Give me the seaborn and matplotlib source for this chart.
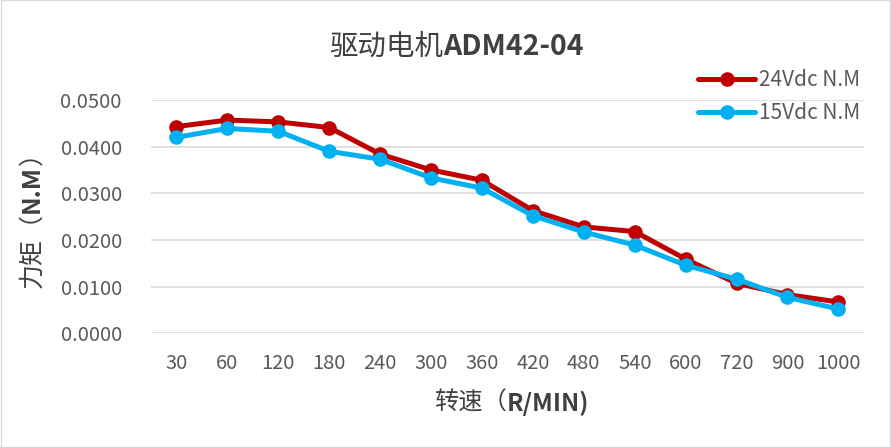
import matplotlib
matplotlib.use("Agg")
from matplotlib import pyplot as plt
import seaborn as sns
import pandas as pd

speeds = ["30", "60", "120", "180", "240", "300", "360", "420", "480", "540", "600", "720", "900", "1000"]
torque_24v = [0.0443, 0.0457, 0.0453, 0.0441, 0.0384, 0.0350, 0.0328, 0.0263, 0.0228, 0.0218, 0.0159, 0.0107, 0.0083, 0.0067]
torque_15v = [0.0420, 0.0439, 0.0433, 0.0390, 0.0373, 0.0333, 0.0311, 0.0252, 0.0217, 0.0189, 0.0146, 0.0116, 0.0077, 0.0052]
series_names = ["24Vdc N.M", "15Vdc N.M"]
yticks = [0, 0.01, 0.02, 0.03, 0.04, 0.05]

df = pd.DataFrame({
    "speed": speeds * 2,
    "pos": list(range(len(speeds))) * 2,
    "torque": torque_24v + torque_15v,
    "series": [series_names[0]] * len(speeds) + [series_names[1]] * len(speeds),
})

sns.set_style("white")
plt.rcParams['font.family'] = ['Noto Sans CJK SC', 'DejaVu Sans']

W, H = 891, 447
fig = plt.figure(figsize=(W / 100, H / 100), dpi=100)
ax = fig.add_axes([0.1695, 0.2544, 0.800, 0.5219])

sns.lineplot(data=df, x="pos", y="torque", hue="series", palette=["#C00000", "#00B0F0"],
             marker="o", markersize=10.5, markeredgewidth=0, linewidth=3.6, sort=False, ax=ax, zorder=3)

ax.set_xlim(-0.5, len(speeds) - 0.5)
ax.set_ylim(0, 0.05)
ax.set_yticks(yticks)
ax.set_yticklabels(["%.4f" % v for v in yticks])
ax.set_xticks(range(len(speeds)))
ax.set_xticklabels(speeds)
ax.tick_params(axis="x", length=0, pad=14, labelsize=14.5, labelcolor="#595959")
ax.tick_params(axis="y", length=0, pad=21, labelsize=14.5, labelcolor="#595959")
ax.grid(axis="y", color="#D9D9D9", linewidth=1.2, zorder=0)
ax.grid(axis="x", visible=False)
for s in ax.spines.values():
    s.set_visible(False)
ax.set_xlabel("")
ax.set_ylabel("")

renderer = fig.canvas.get_renderer()


def mixed_text(cx, cy, parts, size, vertical=False):
    # parts: list of (text, weight); centred at pixel (cx, cy from top)
    texts = []
    for s, w in parts:
        t = fig.text(0, 0, s, fontsize=size, fontweight=w, color="#404040",
                     rotation=90 if vertical else 0)
        texts.append(t)
    widths = []
    for t in texts:
        bb = t.get_window_extent(renderer)
        widths.append(bb.height if vertical else bb.width)
    pos = -sum(widths) / 2
    for t, w in zip(texts, widths):
        if vertical:
            t.set_position((cx / W, 1 - cy / H + pos / H))
            t.set_ha("center")
            t.set_va("bottom")
        else:
            t.set_position((cx / W + pos / W, 1 - cy / H))
            t.set_ha("left")
            t.set_va("center")
        pos += w


mixed_text(512, 403, [("转速（", "normal"), ("R/MIN)", "bold")], 17.5)
mixed_text(32, 214, [("力矩（", "normal"), ("N.M", "bold"), ("）", "normal")], 18, vertical=True)
mixed_text(456, 47, [("驱动电机", "normal"), ("ADM42-04", "bold")], 20.5)

leg = ax.legend(loc="upper left", bbox_to_anchor=(698 / W, 1 - 69 / H), bbox_transform=fig.transFigure,
                frameon=False, fontsize=15, borderpad=0, borderaxespad=0,
                handlelength=2.75, labelspacing=0.55, handletextpad=0.2)
for t in leg.get_texts():
    t.set_color("#595959")
leg.set_title(None)

fig.patches.append(plt.Rectangle((0.001, 0.001), 0.998, 0.998, transform=fig.transFigure,
                                 fill=False, edgecolor="#D9D9D9", linewidth=1))

plt.savefig("out.png", dpi=100)
